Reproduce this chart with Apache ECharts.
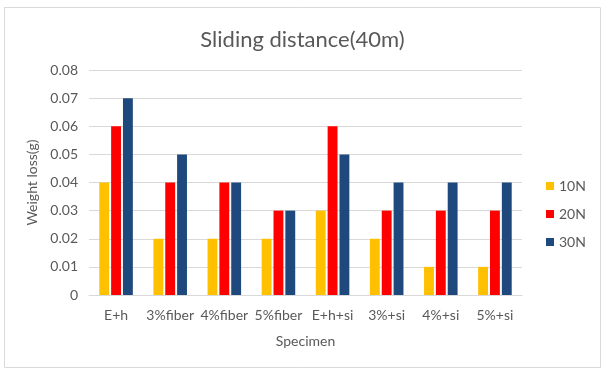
<!DOCTYPE html>
<html>
<head>
<meta charset="utf-8">
<script src="https://cdn.jsdelivr.net/npm/echarts@6/dist/echarts.min.js"></script>
<style>
  html, body { margin: 0; padding: 0; background: #fff; }
  #chart { width: 605px; height: 378px; }
</style>
</head>
<body>
<div id="chart"></div>
<script>
var specimens = ["E+h", "3%fiber", "4%fiber", "5%fiber", "E+h+si", "3%+si", "4%+si", "5%+si"];
var load10N = [0.04, 0.02, 0.02, 0.02, 0.03, 0.02, 0.01, 0.01];
var load20N = [0.06, 0.04, 0.04, 0.03, 0.06, 0.03, 0.03, 0.03];
var load30N = [0.07, 0.05, 0.04, 0.03, 0.05, 0.04, 0.04, 0.04];

var font = "Lato, 'Open Sans', sans-serif";
var gray = "#595959";

var chart = echarts.init(document.getElementById("chart"));
chart.setOption({
    animation: false,
    textStyle: { fontFamily: font },
    graphic: [{
        type: "rect",
        shape: { x: 4.5, y: 7.5, width: 596, height: 360 },
        style: { fill: "none", stroke: "#D9D9D9", lineWidth: 1 },
        silent: true
    }],
    title: {
        text: "Sliding distance(40m)",
        left: "center",
        top: 24,
        textStyle: { fontFamily: font, fontSize: 22, fontWeight: "normal", color: gray }
    },
    legend: {
        orient: "vertical",
        left: 541,
        top: 174,
        itemWidth: 8,
        itemHeight: 8,
        itemGap: 14,
        icon: "rect",
        textStyle: { fontFamily: font, fontSize: 14, color: gray },
        data: ["10N", "20N", "30N"]
    },
    grid: { left: 89, right: 83, top: 70, bottom: 83 },
    xAxis: {
        type: "category",
        data: specimens,
        name: "Specimen",
        nameLocation: "middle",
        nameGap: 39,
        nameTextStyle: { fontFamily: font, fontSize: 14, color: gray },
        axisLine: { lineStyle: { color: "#D9D9D9" } },
        axisTick: { show: false },
        axisLabel: { fontFamily: font, fontSize: 14, color: gray, margin: 13, interval: 0 }
    },
    yAxis: {
        type: "value",
        min: 0,
        max: 0.08,
        interval: 0.01,
        name: "Weight loss(g)",
        nameLocation: "middle",
        nameGap: 43,
        nameTextStyle: { fontFamily: font, fontSize: 14, color: gray },
        axisLine: { show: false },
        axisTick: { show: false },
        axisLabel: {
            fontFamily: font, fontSize: 14, color: gray, margin: 11,
            formatter: function (v) { return v === 0 ? "0" : v.toFixed(2); }
        },
        splitLine: { lineStyle: { color: "#D9D9D9" } }
    },
    series: [
        { name: "10N", type: "bar", data: load10N, barGap: "20%", barCategoryGap: "38%",
          itemStyle: { color: "#FFC000" } },
        { name: "20N", type: "bar", data: load20N,
          itemStyle: { color: "#FF0000" } },
        { name: "30N", type: "bar", data: load30N,
          itemStyle: { color: "#1F497D" } }
    ]
});
</script>
</body>
</html>
